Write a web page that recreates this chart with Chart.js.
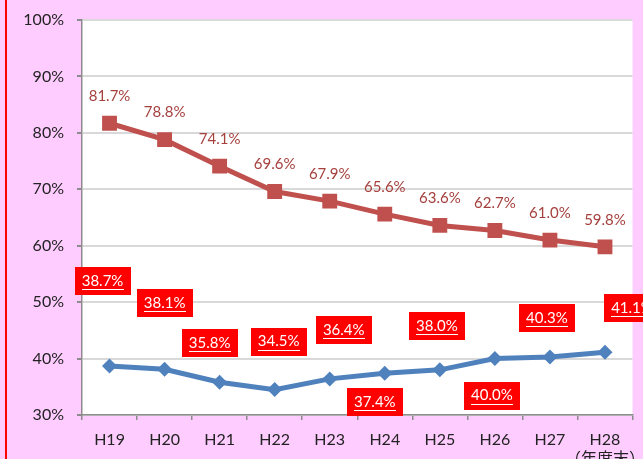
<!DOCTYPE html>
<html>
<head>
<meta charset="utf-8">
<script src="https://cdn.jsdelivr.net/npm/chart.js@4.4.1/dist/chart.umd.min.js"></script>
<style>
  html, body { margin: 0; padding: 0; background: #FFCCFF; }
  #wrap { position: relative; width: 643px; height: 459px; overflow: hidden; background: #FFCCFF; }
  #redline { position: absolute; left: 5px; top: 0; width: 2px; height: 459px; background: #FF0000; }
  canvas { position: absolute; left: 0; top: 0; }
</style>
</head>
<body>
<div id="wrap">
  <div id="redline"></div>
  <canvas id="c" width="643" height="459"></canvas>
</div>
<script>
// ---- data ----
const categories = ['H19', 'H20', 'H21', 'H22', 'H23', 'H24', 'H25', 'H26', 'H27', 'H28'];
const xTickLabels = ['H19', 'H20', 'H21', 'H22', 'H23', 'H24', 'H25', 'H26', 'H27', ['H28', '（年度末）']];
const redSeries = [81.7, 78.8, 74.1, 69.6, 67.9, 65.6, 63.6, 62.7, 61.0, 59.8];
const blueSeries = [38.7, 38.1, 35.8, 34.5, 36.4, 37.4, 38.0, 40.0, 40.3, 41.1];
const yTickValues = [30, 40, 50, 60, 70, 80, 90, 100];

// ---- label placement (pixel offsets from each point) ----
const blueLabelDx = [-7, 0, -10, 4, 14, -10, -3, -3, -3, 27];
const blueLabelDy = [-85, -66, -39, -48, -49, 29, -44, 37, -39, -44];
const redLabelDy = -27;

const plotBg = {
  id: 'plotBg',
  beforeDraw(chart) {
    const a = chart.chartArea, ctx = chart.ctx;
    ctx.save();
    ctx.fillStyle = '#FFFFFF';
    ctx.fillRect(a.left, a.top, a.right - a.left, a.bottom - a.top);
    ctx.restore();
  }
};

const valueLabels = {
  id: 'valueLabels',
  afterDraw(chart) {
    const ctx = chart.ctx;
    ctx.save();
    const m0 = chart.getDatasetMeta(0);
    ctx.font = '15px Lato, "Open Sans", sans-serif';
    ctx.fillStyle = '#A5403D';
    ctx.textAlign = 'center';
    ctx.textBaseline = 'middle';
    m0.data.forEach((pt, i) => {
      ctx.fillText(redSeries[i].toFixed(1) + '%', pt.x, pt.y + redLabelDy);
    });
    const m1 = chart.getDatasetMeta(1);
    m1.data.forEach((pt, i) => {
      const cx = pt.x + blueLabelDx[i], cy = pt.y + blueLabelDy[i];
      const w = 56, h = 28;
      ctx.fillStyle = '#FF0000';
      ctx.fillRect(Math.round(cx - w / 2), Math.round(cy - h / 2), w, h);
      const txt = blueSeries[i].toFixed(1) + '%';
      ctx.fillStyle = '#FFFFFF';
      ctx.fillText(txt, cx, cy);
      const tw = ctx.measureText(txt).width;
      ctx.fillRect(Math.round(cx - tw / 2), Math.round(cy + 8), Math.round(tw), 1);
    });
    ctx.restore();
  }
};

new Chart(document.getElementById('c'), {
  type: 'line',
  data: {
    labels: xTickLabels,
    datasets: [
      {
        data: redSeries,
        borderColor: '#C0504D',
        backgroundColor: '#C0504D',
        borderWidth: 5,
        pointStyle: 'rect',
        pointRadius: 10.5,
        pointBorderWidth: 0,
        tension: 0
      },
      {
        data: blueSeries,
        borderColor: '#4F81BD',
        backgroundColor: '#4F81BD',
        borderWidth: 5,
        pointStyle: 'rectRot',
        pointRadius: 7.5,
        pointBorderWidth: 0,
        tension: 0
      }
    ]
  },
  options: {
    responsive: false,
    animation: false,
    devicePixelRatio: 1,
    layout: { padding: { left: 0, top: 20, right: 9, bottom: 0 } },
    plugins: { legend: { display: false }, tooltip: { enabled: false } },
    scales: {
      x: {
        offset: true,
        grid: { offset: true, drawOnChartArea: false, tickLength: 5, color: '#8C8C8C', lineWidth: 1.5 },
        border: { color: '#8C8C8C', width: 1.5 },
        ticks: {
          autoSkip: false, maxRotation: 0, minRotation: 0, padding: 11,
          color: '#222222',
          font: { size: 16, family: 'Lato, "Noto Sans CJK JP", sans-serif', lineHeight: 1.15 }
        },
        afterFit(scale) {
          scale.height = 44;
          scale.paddingLeft = 0; scale.paddingRight = 0;
          scale.paddingTop = 0; scale.paddingBottom = 0;
        }
      },
      y: {
        min: 30, max: 100,
        afterBuildTicks(scale) { scale.ticks = yTickValues.map(v => ({ value: v })); },
        grid: { color: '#D9D9D9', lineWidth: 2, tickColor: '#8C8C8C', tickLength: 5 },
        border: { color: '#8C8C8C', width: 1.5 },
        ticks: {
          padding: 13,
          color: '#222222',
          font: { size: 16, family: 'Lato, "Open Sans", sans-serif' },
          callback: v => v + '%'
        },
        afterFit(scale) {
          scale.width = 82;
          scale.paddingTop = 0; scale.paddingBottom = 0;
        }
      }
    }
  },
  plugins: [plotBg, valueLabels]
});
</script>
</body>
</html>
